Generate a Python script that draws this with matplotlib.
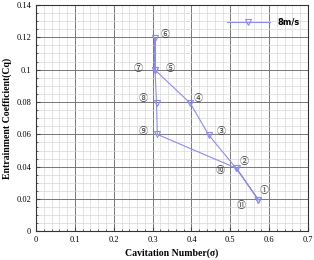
import matplotlib
matplotlib.use("Agg")
import matplotlib.pyplot as plt
from matplotlib.ticker import MultipleLocator, FuncFormatter

sigma = [0.572, 0.515, 0.444, 0.397, 0.306, 0.306, 0.306, 0.310, 0.312, 0.516, 0.572]
cq = [0.0196, 0.039, 0.0597, 0.0792, 0.0998, 0.1198, 0.0998, 0.0793, 0.0600, 0.0390, 0.0196]
labels = ["①", "②", "③", "④", "⑤", "⑥", "⑦", "⑧", "⑨", "⑩", "⑪"]
label_x = [0.587, 0.536, 0.477, 0.418, 0.346, 0.331, 0.262, 0.275, 0.275, 0.474, 0.528]
label_y = [0.0250, 0.0430, 0.0620, 0.0823, 0.1010, 0.1216, 0.1010, 0.0820, 0.0620, 0.0375, 0.0160]
series_name = "8m/s"

plt.rcParams['font.family'] = ['Liberation Serif', 'DejaVu Serif']
fig = plt.figure(figsize=(3.14, 2.6), dpi=100)
ax = fig.add_axes([0.115, 0.11, 0.866, 0.871])

color = '#8c8cf0'
ax.plot(sigma, cq, color=color, lw=0.8, marker='v', markersize=4,
        markerfacecolor='none', markeredgecolor=color, markeredgewidth=0.8, zorder=3)

for lx, ly, t in zip(label_x, label_y, labels):
    ax.text(lx, ly, t, fontsize=6.5, family=['Noto Sans CJK SC', 'DejaVu Sans'], color='#333333',
            ha='center', va='center', zorder=4)

ax.set_xlim(0, 0.7)
ax.set_ylim(0, 0.14)
ax.xaxis.set_major_locator(MultipleLocator(0.1))
ax.xaxis.set_minor_locator(MultipleLocator(0.02))
ax.yaxis.set_major_locator(MultipleLocator(0.02))
ax.yaxis.set_minor_locator(MultipleLocator(0.005))

def fmt(v, pos):
    s = f"{v:.2f}".rstrip('0').rstrip('.')
    return s
ax.xaxis.set_major_formatter(FuncFormatter(fmt))
ax.yaxis.set_major_formatter(FuncFormatter(fmt))

ax.grid(which='major', color='#777777', lw=0.7)
ax.grid(which='minor', color='#d8d8d8', lw=0.5)
ax.set_axisbelow(True)
ax.tick_params(which='both', direction='in', labelsize=6, color='#444444')
ax.tick_params(which='major', length=3)
ax.tick_params(which='minor', length=1.5)
for s in ax.spines.values():
    s.set_linewidth(0.8)
    s.set_color('#333333')

ax.set_xlabel("Cavitation Number(σ)", fontsize=7, fontweight='bold', labelpad=3)
ax.set_ylabel("Entrainment Coefficient(Cq)", fontsize=7, fontweight='bold', labelpad=3)

# legend
ax.plot([0.491, 0.601], [0.1295, 0.1295], color=color, lw=0.8, zorder=3)
ax.plot([0.546], [0.1295], color=color, marker='v', markersize=4, markerfacecolor='none',
        markeredgewidth=0.8, zorder=3)
ax.text(0.621, 0.1295, series_name, fontsize=6, fontweight='bold', family=['DejaVu Sans'],
        va='center', ha='left', zorder=4)

fig.savefig("out.png", dpi=100)
